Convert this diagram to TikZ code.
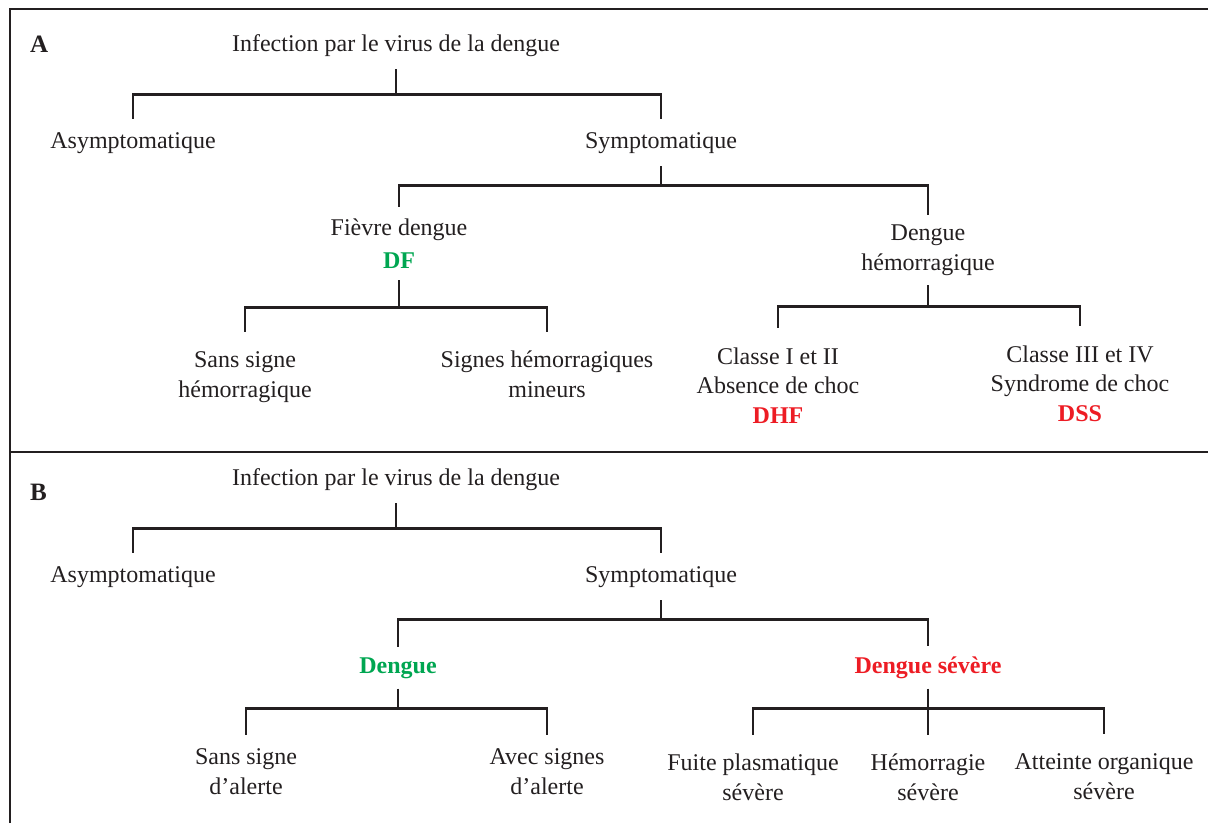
\documentclass[tikz,border=0pt]{standalone}
\usepackage{fontspec}
\setmainfont{Liberation Serif}
\usepackage{xcolor}
\definecolor{ink}{RGB}{35,31,32}
\definecolor{dgreen}{RGB}{0,166,81}
\definecolor{dred}{RGB}{237,28,36}

\begin{document}
\begin{tikzpicture}[x=1pt,y=-1pt]
  \tikzset{txt/.style={anchor=base, align=center, inner xsep=2pt, inner ysep=13pt, text=ink, font=\fontsize{24}{29.5}\selectfont},
    leaf/.style={txt, inner ysep=19pt},
    grade/.style={txt, inner ysep=10pt, font=\fontsize{24}{29.5}\selectfont\bfseries},
    panel/.style={anchor=base west, inner sep=0pt, text=ink, font=\fontsize{25}{30}\selectfont\bfseries},
    link/.style={draw=ink, line width=2.6pt},
    boxline/.style={draw=ink, line width=2pt}}
  \useasboundingbox (0,0) rectangle (1208,823);
  \draw[boxline] (10,823) -- (10,9) -- (1208,9);
  \draw[boxline] (10,452) -- (1208,452);

  \node[panel] (labA) at (30,52) {A};
  \node[txt] (rootA) at (396,51) {Infection par le virus de la dengue};
  \node[txt] (asymA) at (133,148) {Asymptomatique};
  \node[txt] (symA) at (661,148) {Symptomatique};
  \node[txt, inner ysep=12pt] (feverA) at (399,268) {Fièvre dengue\\[3pt]\textcolor{dgreen}{\bfseries DF}};
  \node[txt, inner ysep=10pt] (dhA) at (928,270) {Dengue\\hémorragique};
  \node[leaf] (sansA) at (245,397) {Sans signe\\hémorragique};
  \node[leaf] (minA) at (547,397) {Signes hémorragiques\\mineurs};
  \node[leaf] (dhfA) at (778,423) {Classe I et II\\Absence de choc\\\textcolor{dred}{\bfseries DHF}};
  \node[leaf] (dssA) at (1080,421) {Classe III et IV\\Syndrome de choc\\\textcolor{dred}{\bfseries DSS}};

  \draw[link] (rootA.south) -- ++(0,25) coordinate (forkA1) -| (asymA.north);
  \draw[link] (forkA1) -| (symA.north);
  \draw[link] (symA.south) -- ++(0,19) coordinate (forkA2) -| (feverA.north);
  \draw[link] (forkA2) -| (dhA.north);
  \draw[link] (feverA.south) -- ++(0,27) coordinate (forkA3) -| (sansA.north);
  \draw[link] (forkA3) -| (minA.north);
  \draw[link] (dhA.south) -- ++(0,21) coordinate (forkA4) -| (dhfA.north);
  \draw[link] (forkA4) -| (dssA.north);

  \node[panel] (labB) at (30,500) {B};
  \node[txt] (rootB) at (396,485) {Infection par le virus de la dengue};
  \node[txt] (asymB) at (133,582) {Asymptomatique};
  \node[txt] (symB) at (661,582) {Symptomatique};
  \node[grade, text=dgreen] (dengB) at (398,673) {Dengue};
  \node[grade, text=dred] (sevB) at (928,673) {Dengue sévère};
  \node[txt] (sansB) at (246,794) {Sans signe\\d’alerte};
  \node[txt] (avecB) at (547,794) {Avec signes\\d’alerte};
  \node[leaf] (fuiteB) at (753,800) {Fuite plasmatique\\sévère};
  \node[leaf] (hemB) at (928,800) {Hémorragie\\sévère};
  \node[leaf] (orgB) at (1104,799) {Atteinte organique\\sévère};

  \draw[link] (rootB.south) -- ++(0,25) coordinate (forkB1) -| (asymB.north);
  \draw[link] (forkB1) -| (symB.north);
  \draw[link] (symB.south) -- ++(0,19) coordinate (forkB2) -| (dengB.north);
  \draw[link] (forkB2) -| (sevB.north);
  \draw[link] (dengB.south) -- ++(0,20) coordinate (forkB3) -| (sansB.north);
  \draw[link] (forkB3) -| (avecB.north);
  \draw[link] (sevB.south) -- ++(0,20) coordinate (forkB4) -| (fuiteB.north);
  \draw[link] (forkB4) -| (orgB.north);
  \draw[link] (forkB4) -- (forkB4 |- hemB.north);
\end{tikzpicture}
\end{document}
